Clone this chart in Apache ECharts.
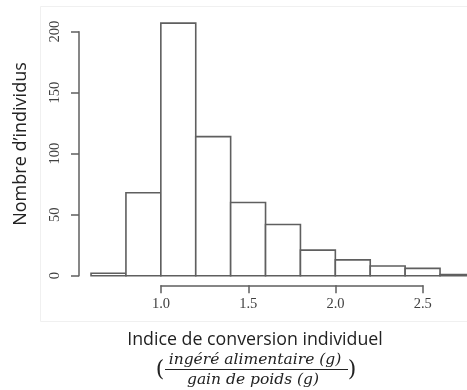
<!DOCTYPE html>
<html>
<head>
<meta charset="utf-8">
<script src="https://cdn.jsdelivr.net/npm/echarts@6/dist/echarts.min.js"></script>
<style>
  html, body { margin: 0; padding: 0; background: #fff; }
  #chart { width: 467px; height: 390px; }
</style>
</head>
<body>
<div id="chart"></div>
<script>
// Histogram bins (feed conversion ratio) and individual counts
const binStarts = [0.6, 0.8, 1.0, 1.2, 1.4, 1.6, 1.8, 2.0, 2.2, 2.4, 2.6];
const binEnds   = [0.8, 1.0, 1.2, 1.4, 1.6, 1.8, 2.0, 2.2, 2.4, 2.6, 2.8];
const counts    = [2, 68, 207, 114, 60, 42, 21, 13, 8, 6, 1];

const yTicks = [0, 50, 100, 150, 200];
const xTicks = [1.0, 1.5, 2.0, 2.5];

const yTitle = 'Nombre d’individus';
const xTitle = 'Indice de conversion individuel';
const fracTop = 'ingéré alimentaire (g)';
const fracBottom = 'gain de poids (g)';

const ink = '#5f5f5f';
const serif = '"Liberation Serif", "DejaVu Serif", serif';
const sans = '"Open Sans", "Noto Sans", sans-serif';
const mathFont = 'italic 15.5px "DejaVu Serif", serif';

const bars = binStarts.map((s, i) => [s, binEnds[i], counts[i]]);

const chart = echarts.init(document.getElementById('chart'), null, { renderer: 'canvas' });

chart.setOption({
  animation: false,
  backgroundColor: '#ffffff',
  grid: [
    { left: 79, top: 31.7, width: 388, height: 244 },
    { left: 161, top: 270, width: 261.75, height: 15.3 }
  ],
  xAxis: [
    { gridIndex: 0, type: 'value', min: 0.531, max: 0.531 + 388 / 174.5, show: false },
    {
      gridIndex: 1, type: 'value',
      min: xTicks[0], max: xTicks[xTicks.length - 1], interval: 0.5,
      axisLine: { show: true, lineStyle: { color: ink, width: 1.5 } },
      axisTick: { show: true, length: 8, lineStyle: { color: ink, width: 1.5 } },
      axisLabel: {
        margin: 11, color: '#404040', fontFamily: serif, fontSize: 14.5,
        formatter: v => v.toFixed(1)
      },
      splitLine: { show: false }
    }
  ],
  yAxis: [
    {
      gridIndex: 0, type: 'value',
      min: yTicks[0], max: yTicks[yTicks.length - 1], interval: 50,
      axisLine: { show: true, lineStyle: { color: ink, width: 1.5 } },
      axisTick: { show: true, length: 8, lineStyle: { color: ink, width: 1.5 } },
      axisLabel: {
        rotate: 90, margin: 16, color: '#404040', fontFamily: serif, fontSize: 14.5
      },
      splitLine: { show: false }
    },
    { gridIndex: 1, type: 'value', show: false }
  ],
  series: [
    {
      type: 'custom',
      xAxisIndex: 0, yAxisIndex: 0,
      clip: false,
      data: bars,
      encode: { x: [0, 1], y: 2 },
      renderItem: function (params, api) {
        const p0 = api.coord([api.value(0), api.value(2)]);
        const p1 = api.coord([api.value(1), 0]);
        return {
          type: 'rect',
          shape: { x: p0[0], y: p0[1], width: p1[0] - p0[0], height: p1[1] - p0[1] },
          style: { fill: '#ffffff', stroke: ink, lineWidth: 1.6 }
        };
      }
    }
  ],
  graphic: [
    // faint frame of the plotting panel
    {
      type: 'rect', z: -10,
      shape: { x: 40.5, y: 6.5, width: 440, height: 315 },
      style: { fill: 'none', stroke: '#f0f0f0', lineWidth: 1 }
    },
    {
      type: 'text', x: 21, y: 144, rotation: Math.PI / 2,
      style: {
        text: yTitle, font: '18px ' + sans, fill: '#222',
        textAlign: 'center', textVerticalAlign: 'middle'
      }
    },
    {
      type: 'text', x: 255, y: 340,
      style: {
        text: xTitle, font: '17.8px ' + sans, fill: '#222',
        textAlign: 'center', textVerticalAlign: 'middle'
      }
    },
    {
      type: 'text', x: 255, y: 360,
      style: {
        text: fracTop, font: mathFont, fill: '#222',
        textAlign: 'center', textVerticalAlign: 'middle'
      }
    },
    {
      type: 'line',
      shape: { x1: 165, y1: 369.5, x2: 348, y2: 369.5 },
      style: { stroke: '#222', lineWidth: 1 }
    },
    {
      type: 'text', x: 253, y: 380,
      style: {
        text: fracBottom, font: mathFont, fill: '#222',
        textAlign: 'center', textVerticalAlign: 'middle'
      }
    },
    {
      type: 'text', x: 160, y: 370,
      style: {
        text: '(', font: '22px "DejaVu Serif", serif', fill: '#222',
        textAlign: 'center', textVerticalAlign: 'middle'
      }
    },
    {
      type: 'text', x: 352, y: 370,
      style: {
        text: ')', font: '22px "DejaVu Serif", serif', fill: '#222',
        textAlign: 'center', textVerticalAlign: 'middle'
      }
    }
  ]
});
</script>
</body>
</html>
